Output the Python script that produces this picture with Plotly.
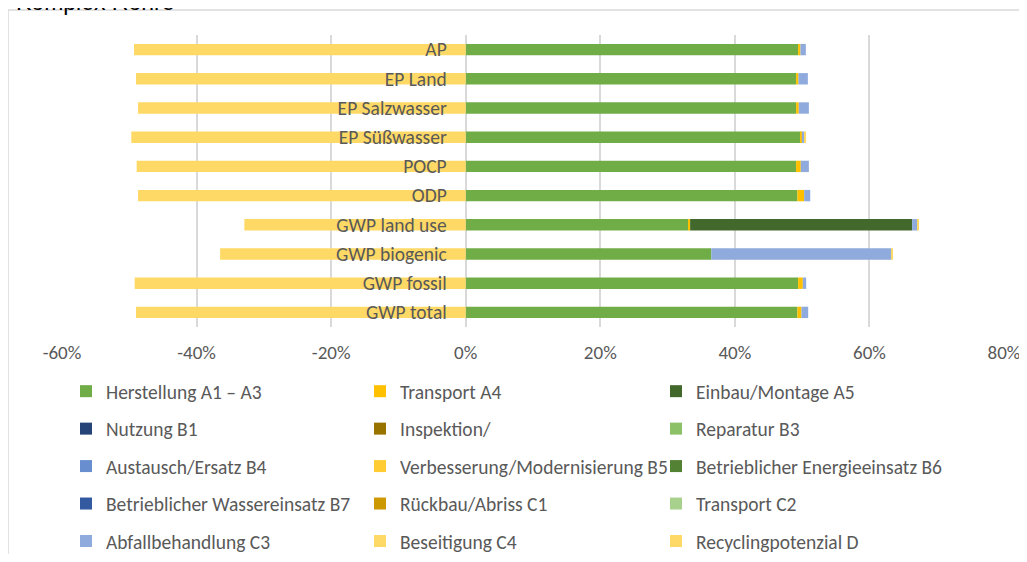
import plotly.graph_objects as go

categories = ["AP", "EP Land", "EP Salzwasser", "EP Süßwasser", "POCP", "ODP",
              "GWP land use", "GWP biogenic", "GWP fossil", "GWP total"]

series_names = [
    "Herstellung A1 – A3", "Transport A4", "Einbau/Montage A5",
    "Nutzung B1", "Inspektion/", "Reparatur B3",
    "Austausch/Ersatz B4", "Verbesserung/Modernisierung B5", "Betrieblicher Energieeinsatz B6",
    "Betrieblicher Wassereinsatz B7", "Rückbau/Abriss C1", "Transport C2",
    "Abfallbehandlung C3", "Beseitigung C4", "Recyclingpotenzial D",
]

herstellung_a1_a3 = [49.4, 49.1, 49.1, 49.8, 49.1, 49.3, 33.1, 36.5, 49.4, 49.3]
transport_a4 = [0.35, 0.35, 0.4, 0.15, 0.7, 1.0, 0.25, 0.0, 0.7, 0.6]
einbau_a5 = [0, 0, 0, 0, 0, 0, 33.0, 0, 0, 0]
nutzung_b1 = [0] * 10
inspektion_b2 = [0] * 10
reparatur_b3 = [0] * 10
austausch_b4 = [0] * 10
verbesserung_b5 = [0] * 10
energie_b6 = [0] * 10
wasser_b7 = [0] * 10
rueckbau_c1 = [0] * 10
transport_c2 = [0] * 10
abfall_c3 = [0.8, 1.4, 1.5, 0.4, 1.2, 0.9, 0.8, 26.8, 0.5, 1.0]
beseitigung_c4 = [0, 0, 0, 0.1, 0, 0, 0.2, 0.2, 0, 0]
recycling_d = [-49.3, -49.0, -48.7, -49.7, -48.9, -48.7, -32.9, -36.5, -49.2, -49.0]

series_values = [
    herstellung_a1_a3, transport_a4, einbau_a5,
    nutzung_b1, inspektion_b2, reparatur_b3,
    austausch_b4, verbesserung_b5, energie_b6,
    wasser_b7, rueckbau_c1, transport_c2,
    abfall_c3, beseitigung_c4, recycling_d,
]

series_colors = [
    "#70AD47", "#FFC000", "#43682B",
    "#264478", "#997300", "#8CC168",
    "#698ED0", "#FFCD33", "#548235",
    "#335AA1", "#CC9A00", "#A9D18E",
    "#8FAADC", "#FFD966", "#FFD966",
]

tick_vals = [-60, -40, -20, 0, 20, 40, 60, 80]
tick_labels = ["-60%", "-40%", "-20%", "0%", "20%", "40%", "60%", "80%"]

FONT = "Carlito, Calibri, Lato, sans-serif"
GREY = "#595959"

OFF = 8  # page body margin
W, H = 1027 - 2 * OFF, 562 - 2 * OFF
L, R, T, B = 62 - OFF, 1004 - OFF, 35 - OFF, 327 - OFF  # plot area in figure pixels

fig = go.Figure()
legend_ids = ["legend", "legend2", "legend3"]
for i, (name, vals, col) in enumerate(zip(series_names, series_values, series_colors)):
    fig.add_trace(go.Bar(
        y=categories, x=vals, name=name, orientation="h",
        marker=dict(color=col, line=dict(width=0)),
        legend=legend_ids[i % 3], legendgroup=f"g{i}",
    ))

def px2paper_x(px):
    return (px - OFF - L) / (R - L)

def px2paper_y(py):
    return (B - (py - OFF)) / (B - T)

legend_common = dict(
    orientation="v", xref="container", yref="container", xanchor="left", yanchor="top",
    font=dict(family=FONT, size=19.5, color=GREY), tracegroupgap=9.1,
    bgcolor="rgba(0,0,0,0)", itemclick=False, itemdoubleclick=False,
)
text_x = [106, 400, 696]   # page px where legend texts start
legend_top_fig = 364       # figure px

def leg_x(px):
    return (px - 48) / W

fig.update_layout(
    width=W, height=H,
    margin=dict(l=L, r=W - R, t=T, b=H - B, pad=0, autoexpand=False),
    paper_bgcolor="white", plot_bgcolor="white",
    barmode="relative", bargap=0.61,
    font=dict(family=FONT, size=19.5, color=GREY),
    xaxis=dict(
        range=[-60, 80], tickvals=tick_vals, ticktext=tick_labels,
        showgrid=True, gridcolor="#D9D9D9", gridwidth=1.5,
        zeroline=False, showline=False, ticks="",
        tickfont=dict(family=FONT, size=19, color=GREY),
        ticklabelstandoff=12, ticklabeloverflow="allow",
        fixedrange=True, automargin=False,
    ),
    yaxis=dict(
        autorange="reversed", anchor="free", position=60 / 140,
        showgrid=False, zeroline=False, showline=False, ticks="",
        tickfont=dict(family=FONT, size=19.5, color=GREY),
        ticklabelstandoff=19, fixedrange=True, automargin=False,
    ),
    legend=dict(legend_common, x=leg_x(text_x[0]), y=1 - legend_top_fig / H),
    legend2=dict(legend_common, x=leg_x(text_x[1]), y=1 - legend_top_fig / H),
    legend3=dict(legend_common, x=leg_x(text_x[2]), y=1 - legend_top_fig / H),
    showlegend=True,
    shapes=[
        dict(type="line", xref="paper", yref="paper",
             x0=px2paper_x(8), x1=px2paper_x(1045), y0=px2paper_y(10), y1=px2paper_y(10),
             line=dict(color="#D9D9D9", width=1.5)),
        dict(type="line", xref="paper", yref="paper",
             x0=px2paper_x(8), x1=px2paper_x(8), y0=px2paper_y(10), y1=px2paper_y(600),
             line=dict(color="#D9D9D9", width=1.5)),
    ],
    annotations=[
        dict(text="Komplex Rohre", xref="paper", yref="paper",
             x=px2paper_x(177), y=px2paper_y(17.5), xanchor="right", yanchor="bottom",
             showarrow=False, font=dict(family="Liberation Sans, Arial", size=23, color="black")),
    ],
)

fig.write_html("out.html")
